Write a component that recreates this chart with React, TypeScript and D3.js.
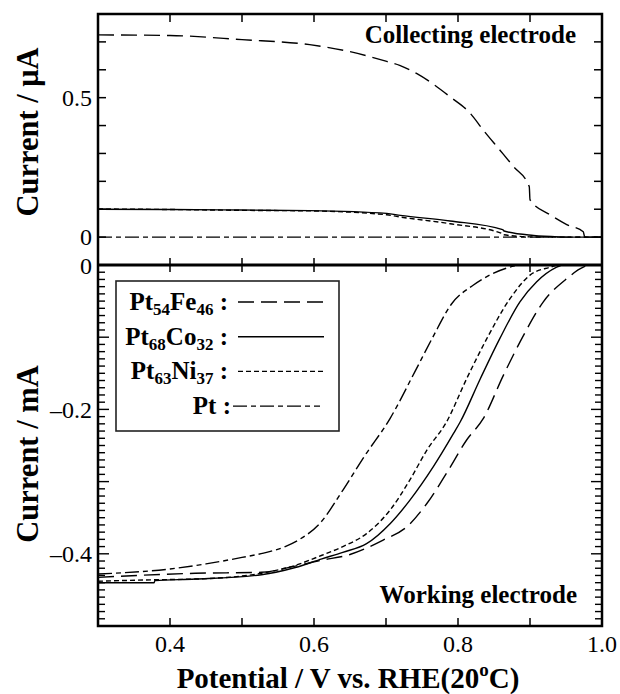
import * as d3 from 'd3';

// potential (V vs RHE) / current pairs
// collecting electrode (uA)
const feTop = [[0.30,0.725],[0.40,0.723],[0.50,0.708],[0.594,0.69],[0.65,0.665],[0.701,0.630],[0.719,0.616],[0.743,0.586],[0.789,0.503],[0.817,0.444],[0.835,0.384],[0.858,0.3125],[0.877,0.253],[0.899,0.181],[0.900,0.134],[0.928,0.080],[0.951,0.045],[0.974,0.019],[0.976,0],[1.0,0]];
const coTop = [[0.30,0.100],[0.40,0.099],[0.50,0.097],[0.594,0.095],[0.701,0.085],[0.72,0.078],[0.789,0.058],[0.862,0.027],[0.864,0.022],[0.905,0.006],[0.94,0.001],[0.96,0],[1.0,0]];
const niTop = [[0.30,0.101],[0.40,0.099],[0.50,0.096],[0.594,0.094],[0.701,0.080],[0.72,0.072],[0.789,0.048],[0.86,0.014],[0.862,0.009],[0.90,0.001],[0.93,0],[1.0,0]];
const ptTop = [[0.30,0],[1.0,0]];

// working electrode (mA)
const feBot = [[0.30,-0.4326],[0.435,-0.427],[0.527,-0.4256],[0.574,-0.417],[0.61,-0.409],[0.65,-0.401],[0.696,-0.381],[0.729,-0.3625],[0.757,-0.330],[0.784,-0.2885],[0.812,-0.2424],[0.835,-0.2129],[0.863,-0.1528],[0.891,-0.0974],[0.9185,-0.051],[0.951,-0.019],[0.974,-0.003],[0.985,0]];
const coBot = [[0.30,-0.440],[0.378,-0.440],[0.379,-0.437],[0.435,-0.435],[0.527,-0.429],[0.574,-0.419],[0.611,-0.407],[0.64,-0.398],[0.673,-0.386],[0.706,-0.358],[0.733,-0.326],[0.766,-0.279],[0.794,-0.233],[0.803,-0.2175],[0.831,-0.1575],[0.858,-0.102],[0.886,-0.051],[0.909,-0.0235],[0.937,-0.003],[0.944,0]];
const niBot = [[0.30,-0.438],[0.378,-0.436],[0.435,-0.435],[0.527,-0.427],[0.574,-0.416],[0.611,-0.402],[0.64,-0.39],[0.673,-0.372],[0.706,-0.339],[0.733,-0.298],[0.757,-0.256],[0.784,-0.2175],[0.812,-0.1575],[0.840,-0.102],[0.872,-0.047],[0.90,-0.014],[0.928,-0.003],[0.939,0]];
const ptBot = [[0.30,-0.428],[0.40,-0.421],[0.45,-0.414],[0.50,-0.405],[0.53,-0.399],[0.56,-0.390],[0.58,-0.380],[0.608,-0.358],[0.64,-0.312],[0.67,-0.265],[0.706,-0.212],[0.74,-0.148],[0.765,-0.100],[0.791,-0.054],[0.821,-0.028],[0.844,-0.014],[0.872,-0.003],[0.885,0]];

const xTickVals = [0.4, 0.5, 0.6, 0.7, 0.8, 0.9];
const xTickLabels = ['0.4', '0.6', '0.8', '1.0'];
const topLabels = ['0', '0.5'];
const botLabels = ['0', '–0.2', '–0.4'];

// legend: [name, sub1, name2, sub2]
const legendItems = [
  ['Pt', '54', 'Fe', '46'],
  ['Pt', '68', 'Co', '32'],
  ['Pt', '63', 'Ni', '37'],
  ['Pt', '', '', ''],
];

const dashes = {
  fe: '16,7',
  co: 'none',
  ni: '5,3',
  pt: '14,4,5,4',
};

const FONT = "'Liberation Serif', 'DejaVu Serif', serif";

export default function App() {
  const x = d3.scaleLinear().domain([0.3, 1.0]).range([98, 602]);
  const yT = d3.scaleLinear().domain([-0.1, 0.8]).range([265, 14]);
  const yB = d3.scaleLinear().domain([-0.5, 0]).range([626, 265]);

  const lineT = d3.line().x(d => x(d[0])).y(d => yT(d[1])).curve(d3.curveMonotoneX);
  const lineB = d3.line().x(d => x(d[0])).y(d => yB(d[1])).curve(d3.curveMonotoneX);

  const topSeries = [[feTop, dashes.fe], [coTop, dashes.co], [niTop, dashes.ni], [ptTop, dashes.pt]];
  const botSeries = [[feBot, dashes.fe], [coBot, dashes.co], [niBot, dashes.ni], [ptBot, dashes.pt]];
  const legendDash = [dashes.fe, dashes.co, dashes.ni, dashes.pt];

  const topYTicks = d3.range(1, 8).map(i => i / 10);
  const botMinor = d3.range(1, 50).map(i => -i / 100);

  return (
    <svg width={620} height={694} style={{ position: 'absolute', left: 0, top: 0, background: '#fff', fontFamily: FONT }}>
      <defs>
        <clipPath id="cT"><rect x={98} y={14} width={504} height={251} /></clipPath>
        <clipPath id="cB"><rect x={98} y={265} width={504} height={361} /></clipPath>
      </defs>

      {/* curves */}
      <g clipPath="url(#cT)" fill="none" stroke="#000" strokeWidth={1.4}>
        {topSeries.map(([d, dash], i) => (
          <path key={i} d={lineT(d)} strokeDasharray={dash} />
        ))}
      </g>
      <g clipPath="url(#cB)" fill="none" stroke="#000" strokeWidth={1.4}>
        {botSeries.map(([d, dash], i) => (
          <path key={i} d={lineB(d)} strokeDasharray={dash} />
        ))}
      </g>

      {/* frames */}
      <rect x={98} y={14} width={504} height={612} fill="none" stroke="#000" strokeWidth={2.5} />
      <line x1={98} x2={602} y1={265} y2={265} stroke="#000" strokeWidth={3} />

      {/* x ticks */}
      <g stroke="#000" strokeWidth={1.5}>
        {xTickVals.map(v => (
          <g key={v}>
            <line x1={x(v)} x2={x(v)} y1={14} y2={22} />
            <line x1={x(v)} x2={x(v)} y1={258} y2={272} />
            <line x1={x(v)} x2={x(v)} y1={618} y2={626} />
          </g>
        ))}
      </g>

      {/* top panel y ticks */}
      <g stroke="#000" strokeWidth={1.5}>
        {topYTicks.map(v => (
          <g key={v}>
            <line x1={98} x2={106} y1={yT(v)} y2={yT(v)} />
            <line x1={594} x2={602} y1={yT(v)} y2={yT(v)} />
          </g>
        ))}
        <line x1={98} x2={106} y1={yT(0)} y2={yT(0)} />
        <line x1={594} x2={602} y1={yT(0)} y2={yT(0)} />
      </g>

      {/* bottom panel y ticks */}
      <g stroke="#000" strokeWidth={1.4}>
        {botMinor.map(v => {
          const major = Math.abs(Math.round(v * 100)) % 10 === 0;
          const len = major ? 11 : 7;
          return (
            <g key={v}>
              <line x1={98} x2={98 + len} y1={yB(v)} y2={yB(v)} />
              <line x1={602 - len} x2={602} y1={yB(v)} y2={yB(v)} />
            </g>
          );
        })}
      </g>

      {/* tick labels */}
      <g fontSize={24} textAnchor="end">
        {topLabels.map(t => (
          <text key={t} x={92} y={yT(+t)} dy="0.34em">{t}</text>
        ))}
        {botLabels.map(t => (
          <text key={t} x={92} y={yB(+t.replace('–', '-'))} dy="0.36em">{t}</text>
        ))}
      </g>
      <g fontSize={24} textAnchor="middle">
        {xTickLabels.map(t => (
          <text key={t} x={x(+t)} y={652}>{t}</text>
        ))}
      </g>

      {/* panel captions */}
      <text x={576} y={43} fontSize={25} fontWeight="bold" textAnchor="end">Collecting electrode</text>
      <text x={577} y={603} fontSize={25} fontWeight="bold" textAnchor="end">Working electrode</text>

      {/* axis titles */}
      <text x={348} y={688} fontSize={29} fontWeight="bold" textAnchor="middle">
        Potential / V vs. RHE(20<tspan fontSize={19} dy={-12}>o</tspan><tspan dy={12}>C)</tspan>
      </text>
      <text transform="translate(38,132) rotate(-90)" fontSize={30.5} fontWeight="bold" textAnchor="middle">Current / μA</text>
      <text transform="translate(38,454) rotate(-90)" fontSize={30.5} fontWeight="bold" textAnchor="middle">Current / mA</text>

      {/* legend */}
      <rect x={116} y={281} width={223} height={150} fill="#fff" stroke="#222" strokeWidth={1.6} />
      {legendItems.map((it, i) => {
        const base = 310 + i * 34.7;
        const ly = base - 8;
        return (
          <g key={i}>
            <text x={i === 3 ? 231 : 228} y={base} fontSize={25} fontWeight="bold" textAnchor="end">
              {it[0]}
              {it[1] && <tspan fontSize={17} dy={5}>{it[1]}</tspan>}
              {it[2] && <tspan dy={-5}>{it[2]}</tspan>}
              {it[3] && <tspan fontSize={17} dy={5}>{it[3]}</tspan>}
              <tspan dy={it[3] ? -5 : 0}> :</tspan>
            </text>
            <line x1={i === 3 ? 233 : 238} x2={i === 3 ? 320 : 324} y1={ly} y2={ly} stroke="#000" strokeWidth={1.4} strokeDasharray={legendDash[i]} />
          </g>
        );
      })}
    </svg>
  );
}
